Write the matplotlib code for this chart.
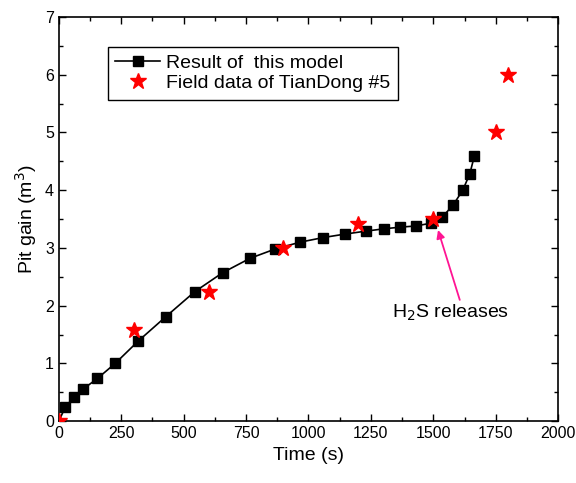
import numpy as np
import matplotlib.pyplot as plt
from matplotlib.ticker import MultipleLocator

plt.rcParams['font.family'] = ['Liberation Sans', 'DejaVu Sans']

# model result (black squares + line)
t_model = [0, 27, 60, 99, 155, 226, 319, 429, 544, 656, 766, 866, 967, 1060,
           1147, 1229, 1301, 1368, 1431, 1492, 1535, 1579, 1618, 1646, 1665]
gain_model = [0, 0.25, 0.41, 0.56, 0.74, 1.0, 1.39, 1.81, 2.24, 2.57, 2.82, 2.98,
              3.1, 3.18, 3.24, 3.29, 3.33, 3.36, 3.38, 3.43, 3.53, 3.74, 4.0,
              4.28, 4.6]

# field data (red stars)
t_field = [0, 300, 600, 900, 1200, 1500, 1750, 1800]
gain_field = [0, 1.58, 2.24, 3.0, 3.42, 3.5, 5.0, 6.0]

fig = plt.figure(figsize=(5.76, 4.83), dpi=100)
ax = fig.add_axes([0.102, 0.128, 0.867, 0.837])

ax.plot(t_model, gain_model, color='black', linestyle='-', linewidth=1.2,
        marker='s', markersize=7, markevery=slice(1, None),
        label='Result of  this model')
ax.plot(t_field, gain_field, linestyle='none', marker='*', color='red',
        markersize=12, label='Field data of TianDong #5', zorder=3)

# arrow + label for H2S release
ax.annotate('', xy=(1519, 3.31), xytext=(1606, 2.1),
            arrowprops=dict(arrowstyle='-|>', color='#ff1493', lw=1.3,
                            shrinkA=0, shrinkB=0, mutation_scale=12))
ax.text(1568, 1.88, 'H$_2$S releases', ha='center', va='center', fontsize=14)

ax.set_xlim(0, 2000)
ax.set_ylim(0, 7)
ax.xaxis.set_major_locator(MultipleLocator(250))
ax.xaxis.set_minor_locator(MultipleLocator(125))
ax.yaxis.set_major_locator(MultipleLocator(1))
ax.yaxis.set_minor_locator(MultipleLocator(0.5))
ax.tick_params(which='both', direction='in', top=True, right=True,
               labelsize=11.5, width=1)
ax.tick_params(which='major', length=5)
ax.tick_params(which='minor', length=3)
for s in ax.spines.values():
    s.set_linewidth(1.2)

ax.set_xlabel('Time (s)', fontsize=14)
ax.set_ylabel('Pit gain (m$^3$)', fontsize=14)

leg = ax.legend(loc='upper left', bbox_to_anchor=(0.098, 0.926),
                borderaxespad=0, fontsize=14, fancybox=False, framealpha=1,
                handlelength=2.3, handletextpad=0.3, labelspacing=0.1,
                borderpad=0.4)
leg.get_frame().set_edgecolor('black')
leg.get_frame().set_linewidth(1)

fig.savefig('out.png', dpi=100)
